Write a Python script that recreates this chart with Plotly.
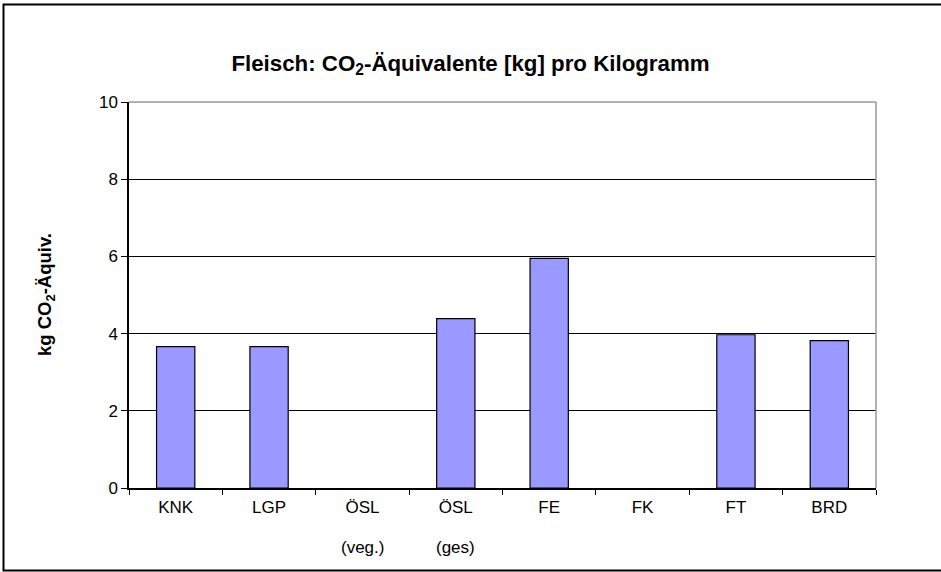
import plotly.graph_objects as go

categories = ["KNK", "LGP", "ÖSL", "ÖSL", "FE", "FK", "FT", "BRD"]
category_ids = ["KNK", "LGP", "ÖSL (veg.)", "ÖSL (ges)", "FE", "FK", "FT", "BRD"]
second_line = ["", "", "(veg.)", "(ges)", "", "", "", ""]
values = [3.66, 3.66, None, 4.39, 5.95, None, 3.97, 3.82]
y_ticks = [0, 2, 4, 6, 8, 10]

W, H = 941, 572
L, R, T, B = 129, 876, 102, 488

fig = go.Figure()
fig.add_trace(go.Bar(
    x=category_ids, y=values,
    marker=dict(color="#9999FF", line=dict(color="black", width=1.2)),
    width=0.41,
))

pw, ph = R - L, B - T
def px_x(p):
    return (p - L) / pw
def px_y(p):
    return (B - p) / ph

annotations = []
for cid, txt in zip(category_ids, second_line):
    if txt:
        annotations.append(dict(x=cid, xref="x", y=px_y(547), yref="paper",
                                text=txt, showarrow=False, xanchor="center",
                                yanchor="middle", font=dict(size=17)))
annotations.append(dict(x=px_x(46), xref="paper", y=px_y(295), yref="paper",
                        text="<b>kg CO<sub>2</sub>-Äquiv.</b>", textangle=-90,
                        showarrow=False, xanchor="center", yanchor="middle",
                        font=dict(size=18.5)))

fig.update_layout(
    width=W, height=H,
    margin=dict(l=L, r=W - R, t=T, b=H - B),
    paper_bgcolor="white", plot_bgcolor="white",
    font=dict(family="Liberation Sans, Arial", size=17, color="black"),
    showlegend=False,
    title=dict(text="<b>Fleisch: CO<sub>2</sub>-Äquivalente [kg] pro Kilogramm</b>",
               x=0.5, xref="container", xanchor="center",
               y=1 - 63 / H, yref="container", yanchor="middle",
               font=dict(size=22.3)),
    xaxis=dict(
        showgrid=False, showline=True, linecolor="black", linewidth=1.5,
        ticks="outside", tickson="boundaries", ticklen=5, tickcolor="black",
        tickmode="array", tickvals=category_ids, ticktext=categories,
        tickfont=dict(size=17), ticklabelstandoff=3,
    ),
    yaxis=dict(
        range=[0, 10], tickvals=y_ticks, ticktext=[str(v) for v in y_ticks],
        showgrid=True, gridcolor="black", gridwidth=1,
        showline=True, linecolor="black", linewidth=1.5,
        ticks="outside", ticklen=6, tickcolor="black",
        tickfont=dict(size=17), zeroline=False,
    ),
    annotations=annotations,
    shapes=[
        dict(type="line", xref="paper", yref="paper", x0=0, x1=1, y0=1, y1=1,
             line=dict(color="#999999", width=1.5)),
        dict(type="line", xref="paper", yref="paper", x0=1, x1=1, y0=0, y1=1,
             line=dict(color="#999999", width=1.5)),
        dict(type="rect", xref="paper", yref="paper",
             x0=px_x(3.5), x1=px_x(950), y0=px_y(570.5), y1=px_y(4.5),
             line=dict(color="black", width=2)),
    ],
)

fig.write_html("out.html", config={"displayModeBar": False},
               post_script="document.body.style.margin='0px';")
